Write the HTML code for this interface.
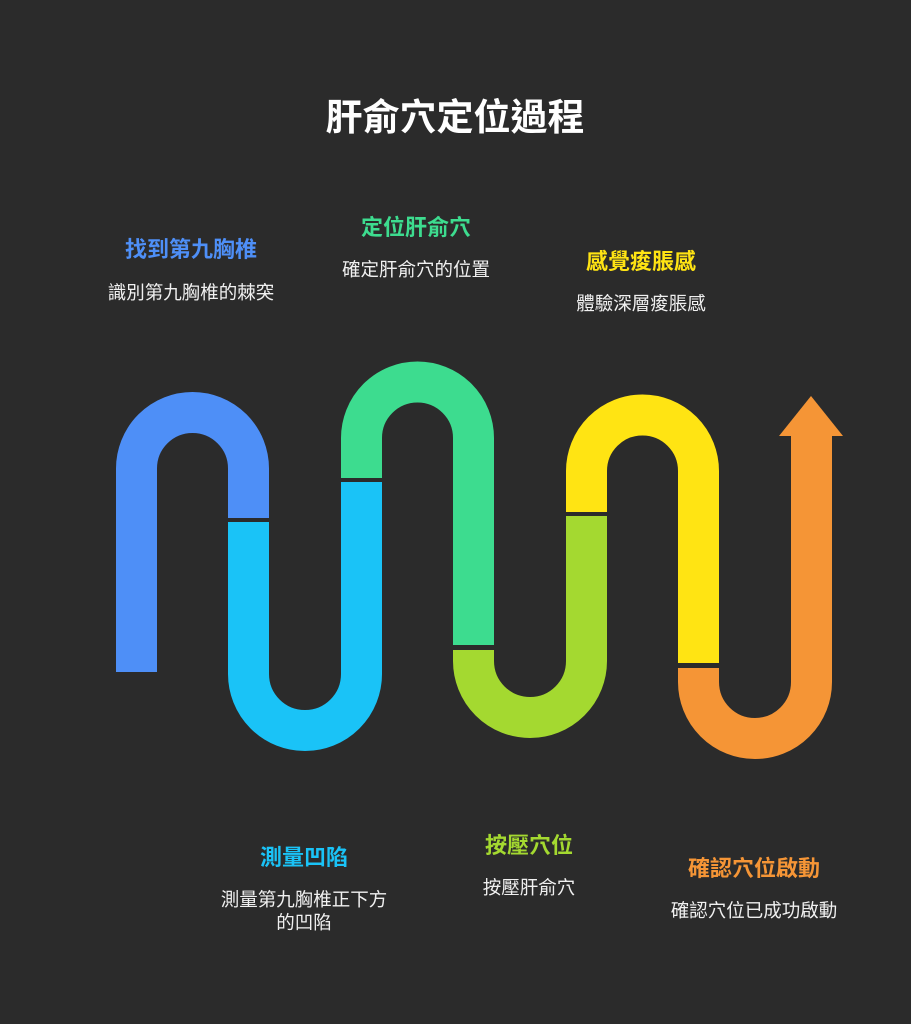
<!DOCTYPE html>
<html><head><meta charset="utf-8"><style>
body{margin:0;width:911px;height:1024px;background:#2b2b2b;overflow:hidden;font-family:"Liberation Sans","Noto Sans CJK TC",sans-serif}
.t{position:absolute;transform:translateX(-50%);white-space:nowrap;text-align:center}
.h{font-weight:bold;font-size:22px}
.d{color:#f0f0f0;font-size:18.5px;line-height:23px}
</style></head><body>
<div class="t" style="left:455px;top:87px;color:#fff;font-weight:bold;font-size:37px">肝俞穴定位過程</div>
<svg width="911" height="1024" style="position:absolute;left:0;top:0" fill="none" stroke-width="41">
<path d="M136.5 672 V468.5 A56 56 0 0 1 248.5 468.5 V518" stroke="#4e8ff7"/>
<path d="M248.5 522 V674 A56 56 0 0 0 361.5 674 V482" stroke="#1ac3f7"/>
<path d="M361.5 478 V438 A56 56 0 0 1 473.5 438 V645" stroke="#3ddc8f"/>
<path d="M473.5 650 V661 A56 56 0 0 0 586.5 661 V516" stroke="#a4d930"/>
<path d="M586.5 512 V471 A56 56 0 0 1 698.5 471 V663" stroke="#ffe413"/>
<path d="M698.5 668 V682 A56 56 0 0 0 811.5 682 V434" stroke="#f59536"/>
<polygon points="779,436 843,436 811,396" fill="#f59536"/>
</svg>
<div class="t h" style="left:191px;top:232px;color:#4e8ff7">找到第九胸椎</div>
<div class="t d" style="left:191px;top:281px">識別第九胸椎的棘突</div>
<div class="t h" style="left:416px;top:210px;color:#3ddc8f">定位肝俞穴</div>
<div class="t d" style="left:416px;top:258px">確定肝俞穴的位置</div>
<div class="t h" style="left:641px;top:244px;color:#ffe413">感覺痠脹感</div>
<div class="t d" style="left:641px;top:292px">體驗深層痠脹感</div>
<div class="t h" style="left:304px;top:840px;color:#1ac3f7">測量凹陷</div>
<div class="t d" style="left:304px;top:888px">測量第九胸椎正下方<br>的凹陷</div>
<div class="t h" style="left:529px;top:828px;color:#a4d930">按壓穴位</div>
<div class="t d" style="left:529px;top:876px">按壓肝俞穴</div>
<div class="t h" style="left:754px;top:851px;color:#f59536">確認穴位啟動</div>
<div class="t d" style="left:754px;top:899px">確認穴位已成功啟動</div>
</body></html>
